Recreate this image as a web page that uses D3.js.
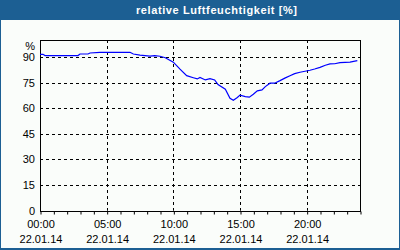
<!DOCTYPE html>
<html>
<head>
<meta charset="utf-8">
<script src="https://cdn.jsdelivr.net/npm/d3@7"></script>
<style>
  body { margin: 0; padding: 0; background: #ffffff; }
  text { font-family: "Liberation Sans", Arial, sans-serif; }
</style>
</head>
<body>
<div id="canvas"></div>
<script>
/* Configuration: drawing */
let svgWidth = 400;
let svgHeight = 250;
let plotLeft = 40, plotRight = 360, plotTop = 40, plotBottom = 210.7;

/* Data: hours since 22.01.14 00:00 and relative humidity in % */
let hours = [0, 0.22, 0.38, 1.5, 2.85, 3.0, 3.6, 3.75, 4.5, 5.6, 6.75, 7.0, 7.5, 8.25, 8.6, 9.0, 9.4,
    10.0, 10.5, 11.0, 11.5, 11.8, 12.0, 12.4, 12.75, 13.1, 13.35, 13.9, 14.25, 14.5, 14.8, 15.0,
    15.4, 15.7, 16.0, 16.3, 16.65, 16.9, 17.25, 17.6, 18.0, 18.4, 18.75, 19.1, 19.5, 20.25, 20.6,
    21.0, 21.4, 21.75, 22.1, 22.5, 23.25, 23.8];
let humidity = [91.6, 91.6, 90.9, 90.9, 90.9, 91.8, 91.8, 92.4, 92.8, 92.8, 92.8, 91.8, 91.1, 90.5, 90.8, 90.5, 89.6,
    87.0, 82.9, 79.1, 77.9, 77.2, 78.1, 76.6, 77.4, 76.6, 73.9, 71.2, 65.9, 64.7, 66.3, 67.7,
    66.8, 66.5, 68.2, 70.2, 70.8, 72.7, 74.7, 74.7, 76.2, 77.8, 79.1, 80.3, 81.1, 82.3, 83.0,
    84.0, 85.2, 86.0, 86.1, 86.7, 87.0, 87.9];
let yTicks = [0, 15, 30, 45, 60, 75, 90];
let xTicks = [0, 5, 10, 15, 20];
let xTimeLabels = ["00:00", "05:00", "10:00", "15:00", "20:00"];
let dateLabel = "22.01.14";
let title = "relative Luftfeuchtigkeit [%]";

let dataset = hours.map(function(h, i) { return { h: h, v: humidity[i] }; });

let svg = d3.select("#canvas")
    .append("svg")
    .attr("width", svgWidth)
    .attr("height", svgHeight);

/* Frame and title bar */
svg.append("rect")
    .attr("x", 0).attr("y", 0)
    .attr("width", svgWidth).attr("height", svgHeight)
    .attr("fill", "#1c5f93");
svg.append("rect")
    .attr("x", 1).attr("y", 20)
    .attr("width", svgWidth - 2).attr("height", svgHeight - 22)
    .attr("fill", "#fafdfa");
svg.append("text")
    .attr("x", 136).attr("y", 14)
    .attr("fill", "#ffffff")
    .attr("font-size", "11px")
    .attr("font-weight", "bold")
    .attr("textLength", 161)
    .attr("lengthAdjust", "spacing")
    .text(title);

let xScale = d3.scaleLinear()
    .domain([0, 24])
    .range([plotLeft, plotRight]);

let yScale = d3.scaleLinear()
    .domain([0, 100])
    .range([plotBottom, plotTop]);

/* Grid lines (dashed) */
svg.selectAll(".hgrid")
    .data(yTicks.filter(function(d) { return d > 0; }))
    .enter().append("line")
    .attr("x1", plotLeft).attr("x2", plotRight)
    .attr("y1", function(d) { return Math.round(yScale(d)) + 0.5; })
    .attr("y2", function(d) { return Math.round(yScale(d)) + 0.5; })
    .attr("stroke", "#000").attr("stroke-dasharray", "3,3");

svg.selectAll(".vgrid")
    .data(xTicks.filter(function(d) { return d > 0; }))
    .enter().append("line")
    .attr("x1", function(d) { return Math.round(xScale(d)) + 0.5; })
    .attr("x2", function(d) { return Math.round(xScale(d)) + 0.5; })
    .attr("y1", plotTop).attr("y2", plotBottom)
    .attr("stroke", "#000").attr("stroke-dasharray", "3,3");

/* Plot box */
svg.append("rect")
    .attr("x", plotLeft + 0.5).attr("y", plotTop + 0.5)
    .attr("width", plotRight - plotLeft).attr("height", Math.round(plotBottom) - plotTop)
    .attr("fill", "none").attr("stroke", "#000");

/* Bottom axis with hourly ticks */
let xAxis = d3.axisBottom(xScale)
    .tickValues(d3.range(0, 25))
    .tickSize(3)
    .tickFormat("");
svg.append("g")
    .attr("transform", "translate(0.5," + (Math.round(plotBottom) + 0.5) + ")")
    .call(xAxis)
    .call(function(g) { g.select(".domain").remove(); })
    .selectAll("line").attr("stroke", "#000");

svg.selectAll(".xlab")
    .data(xTicks)
    .enter().append("text")
    .attr("x", function(d) { return xScale(d) + 1; })
    .attr("y", 228)
    .attr("text-anchor", "middle")
    .attr("font-size", "11px")
    .attr("fill", "#000")
    .text(function(d, i) { return xTimeLabels[i]; });

svg.selectAll(".dlab")
    .data(xTicks)
    .enter().append("text")
    .attr("x", function(d) { return xScale(d) + 1; })
    .attr("y", 243)
    .attr("text-anchor", "middle")
    .attr("font-size", "11px")
    .attr("fill", "#000")
    .text(dateLabel);

/* Y labels */
svg.selectAll(".ylab")
    .data(yTicks)
    .enter().append("text")
    .attr("x", 35)
    .attr("y", function(d) { return yScale(d) + 4; })
    .attr("text-anchor", "end")
    .attr("font-size", "11px")
    .attr("fill", "#000")
    .text(function(d) { return d; });

svg.append("text")
    .attr("x", 35).attr("y", 50)
    .attr("text-anchor", "end")
    .attr("font-size", "11px")
    .attr("fill", "#000")
    .text("%");

/* Humidity line */
let line = d3.line()
    .x(function(d) { return xScale(d.h); })
    .y(function(d) { return yScale(d.v); });

svg.append("path")
    .datum(dataset)
    .attr("d", line)
    .attr("fill", "none")
    .attr("stroke", "#0000ff")
    .attr("stroke-width", 1.2);
</script>
</body>
</html>
